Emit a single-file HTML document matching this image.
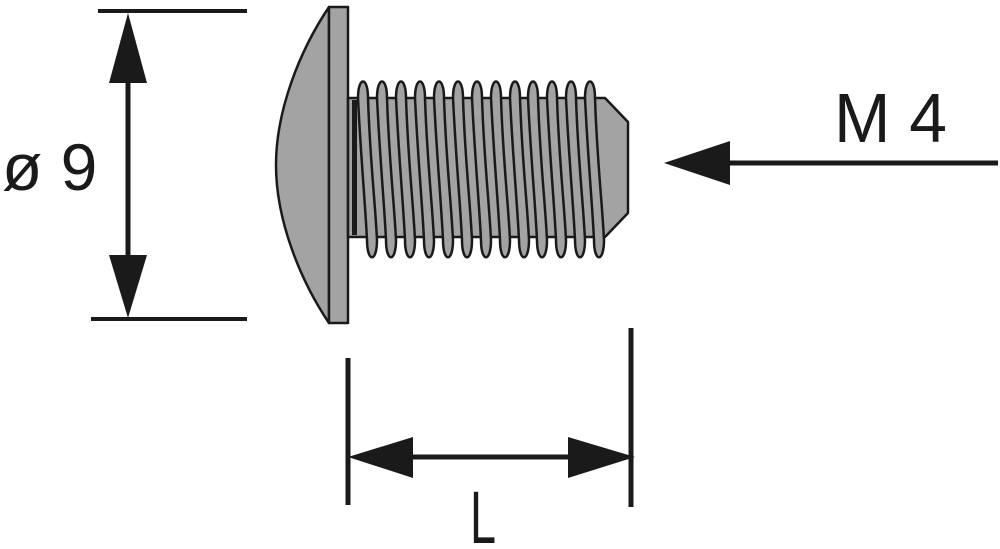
<!DOCTYPE html>
<html><head><meta charset="utf-8"><style>
html,body{margin:0;padding:0;background:#fff;}
svg{display:block;}
text{font-family:"Liberation Sans",sans-serif;fill:#1a1a1a;}
</style></head><body>
<svg width="1000" height="549" viewBox="0 0 1000 549" xmlns="http://www.w3.org/2000/svg">
<!-- left dimension -->
<line x1="98" y1="11" x2="247" y2="11" stroke="#1a1a1a" stroke-width="4"/>
<line x1="91" y1="319" x2="247" y2="319" stroke="#1a1a1a" stroke-width="4"/>
<line x1="128" y1="60" x2="128" y2="270" stroke="#1a1a1a" stroke-width="5"/>
<polygon points="128,13 109,83 147,83" fill="#1a1a1a"/>
<polygon points="128,318 109,255 147,255" fill="#1a1a1a"/>
<text x="2" y="190" font-size="66">ø 9</text>
<!-- M4 -->
<line x1="700" y1="163" x2="998" y2="163" stroke="#1a1a1a" stroke-width="5"/>
<polygon points="664,163 730,141 730,185" fill="#1a1a1a"/>
<text x="834" y="142" font-size="70" textLength="113" lengthAdjust="spacingAndGlyphs">M 4</text>
<!-- L dimension -->
<line x1="348" y1="358" x2="348" y2="505" stroke="#1a1a1a" stroke-width="5"/>
<line x1="631" y1="328" x2="631" y2="507" stroke="#1a1a1a" stroke-width="5"/>
<line x1="380" y1="457" x2="600" y2="457" stroke="#1a1a1a" stroke-width="5"/>
<polygon points="348,457 413,437 413,478" fill="#1a1a1a"/>
<polygon points="635,457 568,437 568,478" fill="#1a1a1a"/>
<text x="470" y="543" font-size="74" textLength="26" lengthAdjust="spacingAndGlyphs">L</text>
<!-- screw -->
<g stroke="#1a1a1a" stroke-width="2.5" fill="#a3a3a3" stroke-linejoin="round">
<path d="M329,7 C300,50 276,110 276,165 C276,220 300,280 329,323 Z"/>
<rect x="329" y="7" width="19" height="316"/>
<path d="M348,98 L605,98 L628,122 L628,213 L605,237 L348,237 Z"/>
</g>
<rect x="352" y="100" width="5" height="135" fill="#1a1a1a"/>
<g stroke="#1a1a1a" stroke-width="2.5" fill="#a3a3a3">
<path d="M358,98 C358,76 368,76 368,98 C370,160 375,200 377,240 C377,263 367,263 367,240 C365,200 361,160 358,98 Z"/>
<path d="M377,98 C377,76 387,76 387,98 C389,160 394,200 396,240 C396,263 386,263 386,240 C384,200 380,160 377,98 Z"/>
<path d="M396,98 C396,76 406,76 406,98 C408,160 413,200 415,240 C415,263 405,263 405,240 C403,200 399,160 396,98 Z"/>
<path d="M415,98 C415,76 425,76 425,98 C427,160 432,200 434,240 C434,263 424,263 424,240 C422,200 418,160 415,98 Z"/>
<path d="M434,98 C434,76 444,76 444,98 C446,160 451,200 453,240 C453,263 443,263 443,240 C441,200 437,160 434,98 Z"/>
<path d="M453,98 C453,76 463,76 463,98 C465,160 470,200 472,240 C472,263 462,263 462,240 C460,200 456,160 453,98 Z"/>
<path d="M472,98 C472,76 482,76 482,98 C484,160 489,200 491,240 C491,263 481,263 481,240 C479,200 475,160 472,98 Z"/>
<path d="M491,98 C491,76 501,76 501,98 C503,160 508,200 510,240 C510,263 500,263 500,240 C498,200 494,160 491,98 Z"/>
<path d="M510,98 C510,76 520,76 520,98 C522,160 527,200 529,240 C529,263 519,263 519,240 C517,200 513,160 510,98 Z"/>
<path d="M528,98 C528,76 538,76 538,98 C540,160 545,200 547,240 C547,263 537,263 537,240 C535,200 531,160 528,98 Z"/>
<path d="M547,98 C547,76 557,76 557,98 C559,160 564,200 566,240 C566,263 556,263 556,240 C554,200 550,160 547,98 Z"/>
<path d="M566,98 C566,76 576,76 576,98 C578,160 583,200 585,240 C585,263 575,263 575,240 C573,200 569,160 566,98 Z"/>
<path d="M585,98 C585,76 595,76 595,98 C597,160 602,200 604,240 C604,263 594,263 594,240 C592,200 588,160 585,98 Z"/>
</g>
</svg>
</body></html>
